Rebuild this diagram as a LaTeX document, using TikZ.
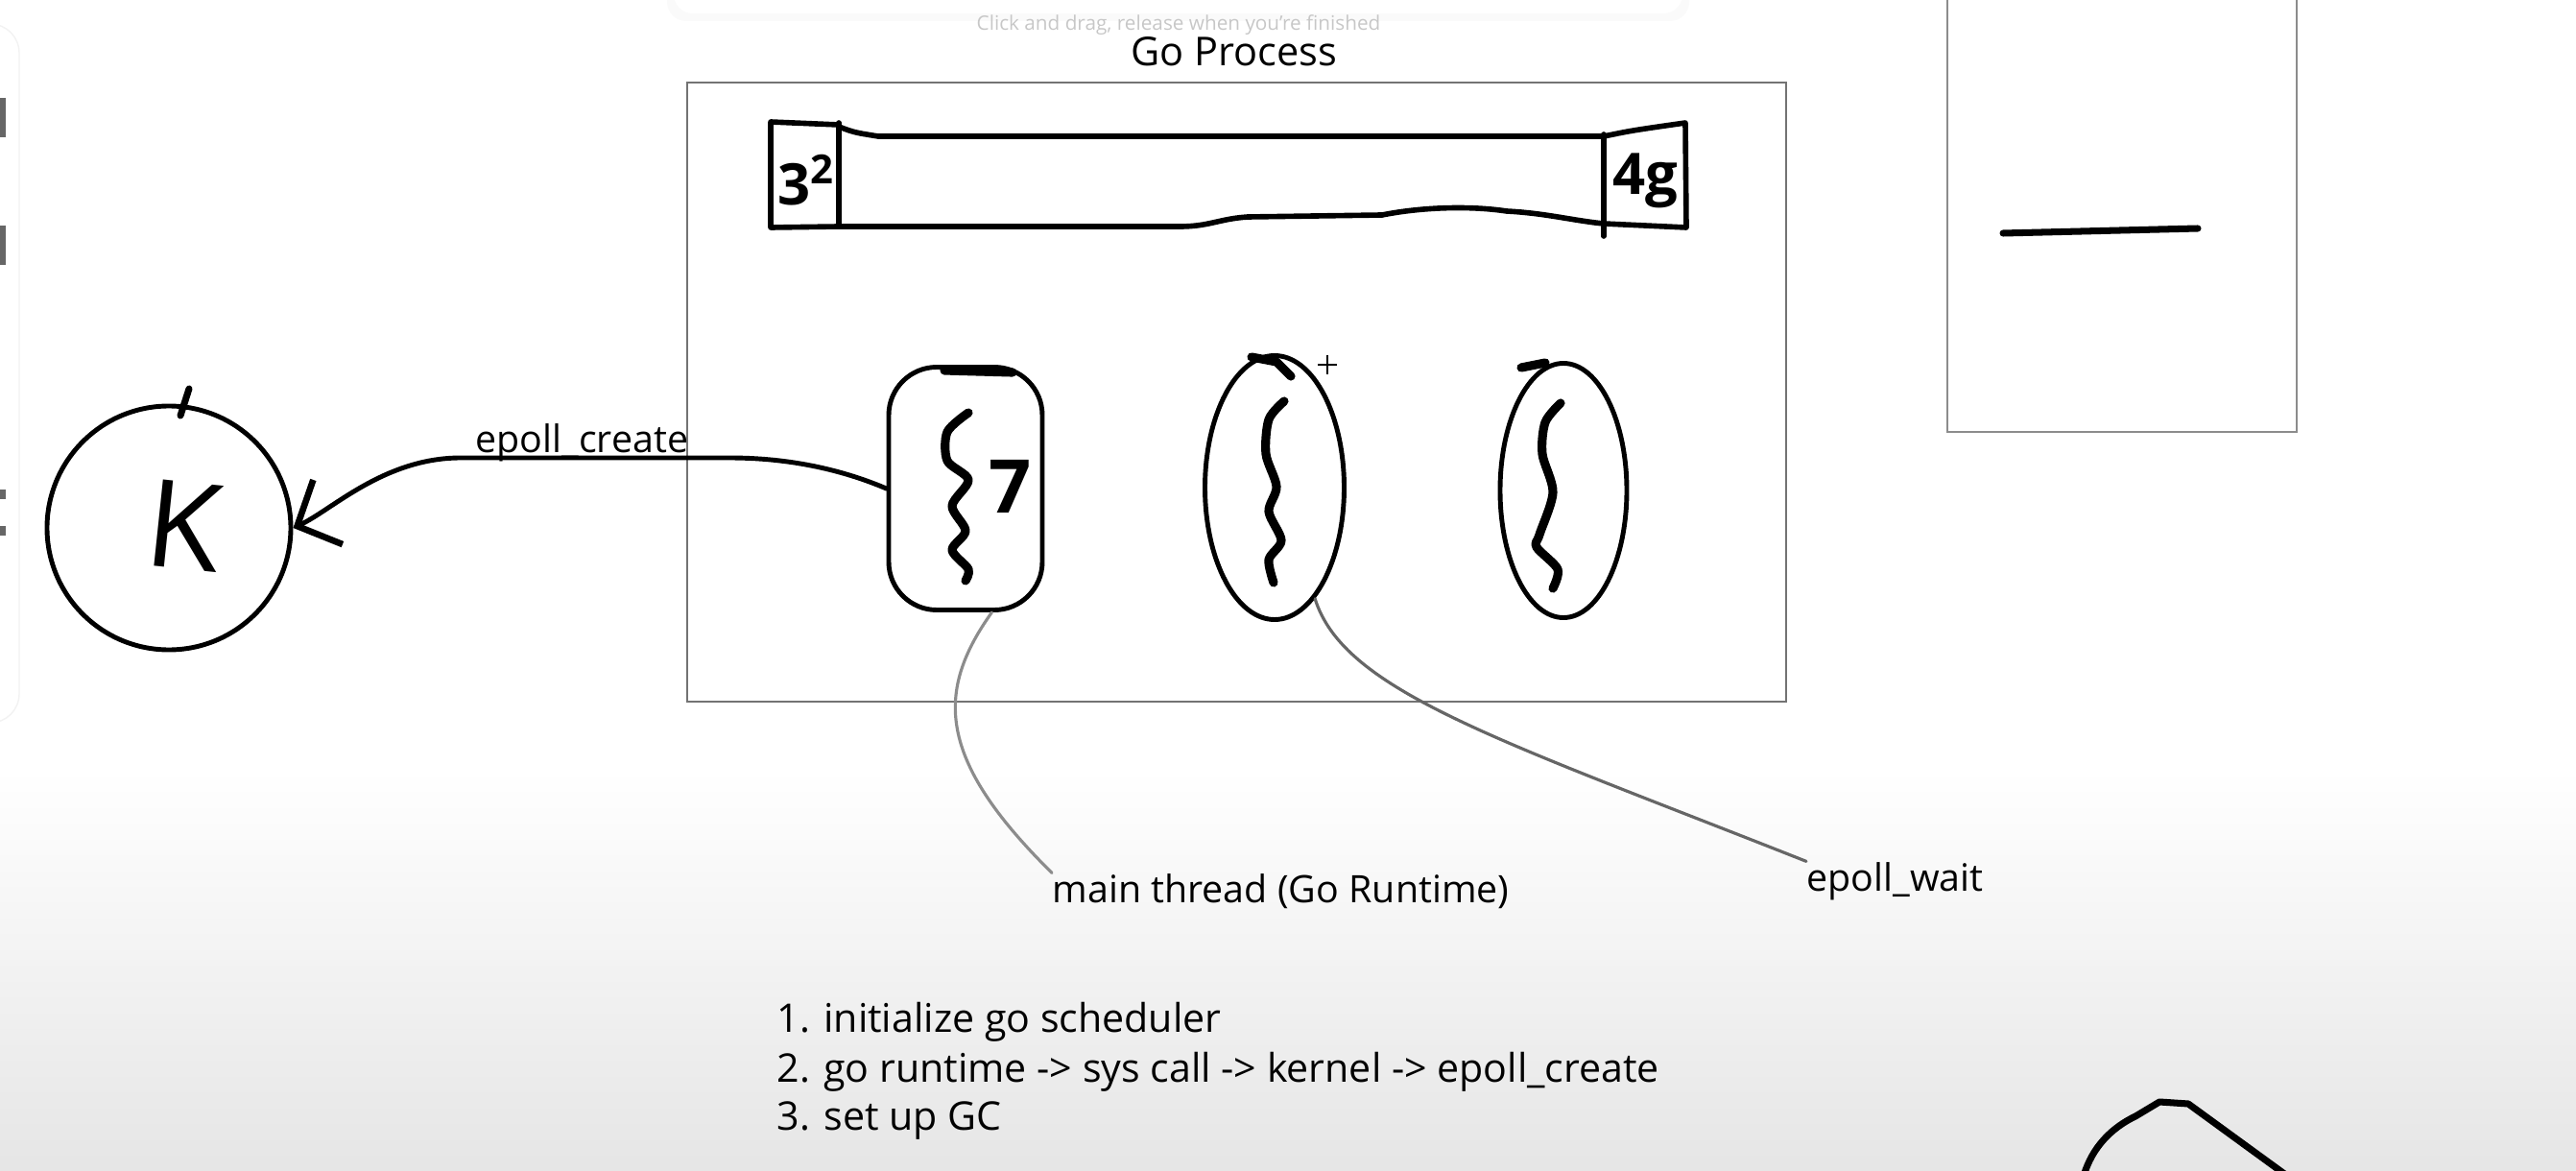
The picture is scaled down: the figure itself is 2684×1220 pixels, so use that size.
\documentclass[tikz,border=0pt]{standalone}
\usepackage{fontspec}
\setmainfont{Open Sans}
\usetikzlibrary{arrows.meta,shapes.geometric}
\begin{document}
\begin{tikzpicture}[x=0.1mm,y=-0.1mm,
        sketch/.style={line width=1.4pt,line cap=round,line join=round},
        squiggle/.style={line width=2.6pt,line cap=round,line join=round},
        thread/.style={draw,line width=1.4pt,inner sep=0pt},
        leader/.style={line width=0.9pt,line cap=round},
        hand/.style={inner sep=0pt,font=\fontsize{11.2}{13}\selectfont},
        digit/.style={inner sep=0pt,font=\fontsize{17}{17}\selectfont\bfseries}]
            \useasboundingbox (0,0) rectangle (2684,1220);
            \shade [top color=white,bottom color=black!10] (0,800) rectangle (2684,1220);
            \fill [black!2,rounded corners=2mm] (695,-30) rectangle (1760,22);
            \fill [white,rounded corners=2mm] (702,-30) rectangle (1753,14);
            \draw [black!5,fill=white,rounded corners=3mm] (-40,25) rectangle (20,753);
            \draw [black!60,line width=1.2mm] (0,102)--(0,143) (0,235)--(0,276) (0,510)--(0,520) (0,548)--(0,558);
            \node [inner sep=0pt,anchor=base west,text=black!22,font=\fontsize{5.9}{7}\selectfont] (hint) at (1017,32) {Click and drag, release when you're finished};
            \node [draw=black!55,line width=0.8pt,inner sep=0pt,minimum width=114.5mm,minimum height=64.5mm] (proc) at (1288.5,408.5) {};
            \node [hand,anchor=base west,font=\fontsize{11.8}{13}\selectfont] (title) at (1178,69) {Go Process};
            \draw [sketch,line width=1.6pt] (874,130)--(803,127)--(803,237)--(874,236)
                (874,132) .. controls (890,138) .. (915,142)--(1671,142) .. controls (1700,136) .. (1756,128)--(1757,237)--(1671,233)
                .. controls (1640,230) and (1610,222) .. (1570,220) .. controls (1530,214) and (1480,216) .. (1440,224)--(1300,226)
                .. controls (1270,228) and (1260,236) .. (1229,236)--(874,236);
            \draw [sketch,line width=1.6pt] (874,128)--(874,236) (1671,140)--(1671,246);
            \node [digit] (bits) at (840,188) {3\textsuperscript{2}};
            \node [digit] (mem) at (1714,188) {4g};
            \node [thread,rounded corners=5mm,minimum width=16mm,minimum height=25.3mm] (t1) at (1006,509) {};
            \node [thread,ellipse,minimum width=14.5mm,minimum height=27.5mm] (t2) at (1328,508) {};
            \node [thread,ellipse,minimum width=13.2mm,minimum height=26.5mm] (t3) at (1629,511) {};
            \draw [squiggle] (984,386)--(1055,388);
            \draw [squiggle] (1304,372)--(1330,377)--(1345,392);
            \draw [squiggle] (1585,383)--(1610,378);
            \draw [squiggle] plot [smooth] coordinates {(1009,430) (987,450) (987,480) (1009,500) (992,527) (1006,553) (992,573) (1009,593) (1006,605)};
            \draw [squiggle] plot [smooth] coordinates {(1338,418) (1322,437) (1319,473) (1330,507) (1322,533) (1335,563) (1322,583) (1327,607)};
            \draw [squiggle] plot [smooth] coordinates {(1626,420) (1610,440) (1607,473) (1618,513) (1604,557) (1601,570) (1623,593) (1618,613)};
            \node [inner sep=0pt,font=\fontsize{22}{22}\selectfont\bfseries] (seven) at (1053,507) {7};
            \draw [line width=0.6pt] (1373,380)--(1393,380) (1383,370)--(1383,390);
            \node [thread,circle,minimum size=25.4mm] (kernel) at (176,550) {};
            \draw [sketch,line width=2pt] (197,405)--(188,433);
            \node [inner sep=0pt,rotate=-6,font=\fontsize{36}{36}\selectfont] (k) at (192,548) {K};
            \draw [sketch,-{Straight Barb[length=10pt,width=21pt,line width=1.9pt]}] (t1.west) .. controls (860,482) and (800,477) .. (760,477)--(480,477) .. controls (400,477) and (345,532) .. (kernel.east);
            \node [hand,anchor=base west] (create) at (495,472) {epoll\_create};
            \node [hand,anchor=base west] (mainlbl) at (1096,940) {main thread (Go Runtime)};
            \node [hand,anchor=base west] (waitlbl) at (1882,928) {epoll\_wait};
            \draw [leader,black!45] (t1.-78) .. controls (975,720) and (975,790) .. (mainlbl.north west);
            \draw [leader,black!60] (t2.-70) .. controls (1400,720) and (1560,770) .. (waitlbl.north west);
            \draw [black!45,line width=0.8pt] (2029,-10)--(2029,450)--(2393,450)--(2393,-10);
            \draw [line width=2pt,line cap=round] (2087,243)--(2290,238);
            \node [hand,anchor=base west,font=\fontsize{11.7}{13}\selectfont] (step1) at (809,1075) {1. initialize go scheduler};
            \node [hand,anchor=base west,font=\fontsize{11.7}{13}\selectfont] (step2) at (809,1127) {2. go runtime -> sys call -> kernel -> epoll\_create};
            \node [hand,anchor=base west,font=\fontsize{11.7}{13}\selectfont] (step3) at (809,1177) {3. set up GC};
            \draw [line width=2pt,line join=round] (2171,1225) .. controls (2180,1195) and (2200,1175) .. (2225,1163)--(2250,1148)--(2280,1150)--(2383,1225);
        \end{tikzpicture}
\end{document}
